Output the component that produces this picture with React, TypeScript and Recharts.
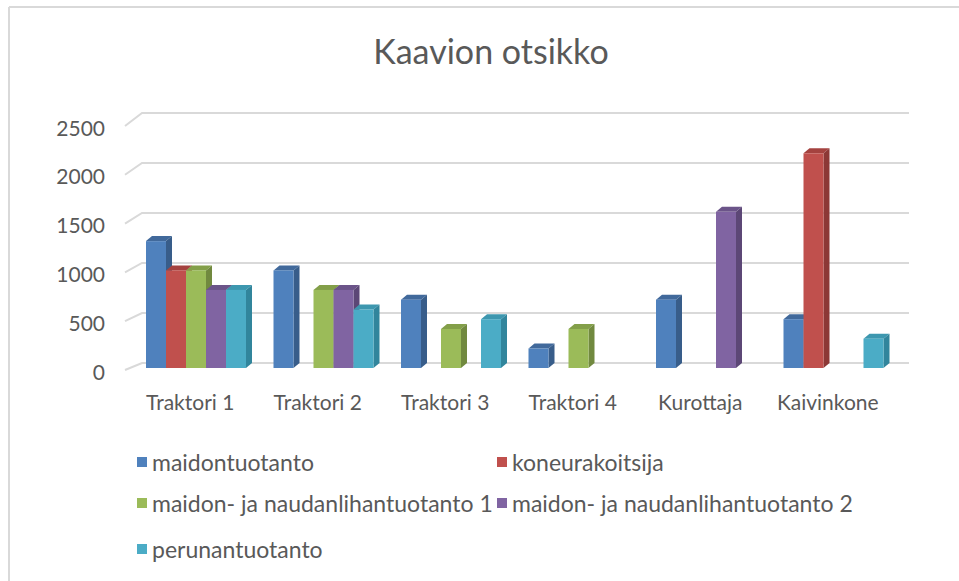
import { BarChart, Bar, XAxis, YAxis, CartesianGrid } from "recharts";

// Luokat ja sarjat
const categories = ["Traktori 1", "Traktori 2", "Traktori 3", "Traktori 4", "Kurottaja", "Kaivinkone"];
const maidontuotanto = [1300, 1000, 700, 200, 700, 500];
const koneurakoitsija = [1000, null, null, null, null, 2200];
const maidonNauta1 = [1000, 800, 400, 400, null, null];
const maidonNauta2 = [800, 800, null, null, 1600, null];
const perunantuotanto = [800, 600, 500, null, null, 300];
const yTicks = [0, 500, 1000, 1500, 2000, 2500];

const series = [
  { key: "maidontuotanto", name: "maidontuotanto", values: maidontuotanto, color: "#4F81BD", side: "#385D8A", top: "#41699B" },
  { key: "koneurakoitsija", name: "koneurakoitsija", values: koneurakoitsija, color: "#C0504D", side: "#8C3836", top: "#A4423F" },
  { key: "mn1", name: "maidon- ja naudanlihantuotanto 1", values: maidonNauta1, color: "#9BBB59", side: "#71893F", top: "#839F49" },
  { key: "mn2", name: "maidon- ja naudanlihantuotanto 2", values: maidonNauta2, color: "#8064A2", side: "#5C4776", top: "#6B5489" },
  { key: "peru", name: "perunantuotanto", values: perunantuotanto, color: "#4BACC6", side: "#31859C", top: "#3D97AF" },
];

const data = categories.map((c, i) => {
  const row: any = { name: c };
  series.forEach((s) => (row[s.key] = s.values[i]));
  return row;
});

const FONT = "Lato, 'Open Sans', sans-serif";
const TEXT = "#595959";
const GRID = "#D9D9D9";
const W = 959;
const H = 581;
const PLOT_BOTTOM = 368;
const PLOT_LEFT = 131;
const PLOT_RIGHT = 896;

// 3D-palkki: etupinta, yläpinta ja kylki
const make3DBar = (color: string, side: string, top: string) => (props: any) => {
  const { x, y, width, height } = props;
  if (!height || height <= 0) return <g />;
  const dx = 6;
  const dy = 5;
  return (
    <g>
      <path d={`M${x},${y} L${x + dx},${y - dy} L${x + width + dx},${y - dy} L${x + width},${y} Z`} fill={top} />
      <path d={`M${x + width},${y} L${x + width + dx},${y - dy} L${x + width + dx},${y + height - dy} L${x + width},${y + height} Z`} fill={side} />
      <rect x={x} y={y} width={width} height={height} fill={color} />
    </g>
  );
};

// takaseinän ruudukko vinolla alkuosalla
const gridLine = (p: any) => {
  const y = p.y1;
  const yBack = 363 - (PLOT_BOTTOM - y) * 1.0246;
  return (
    <g key={`g-${y}`}>
      <polyline
        points={`${p.x1 - 6},${y + 2} ${p.x1 + 11},${yBack} ${p.x2 + 13},${yBack}`}
        fill="none"
        stroke={GRID}
        strokeWidth={2}
      />
    </g>
  );
};

const YTick = ({ x, y, payload }: any) => (
  <text x={x} y={y + 11.5} textAnchor="end" fill={TEXT} fontSize={21} fontFamily={FONT}>
    {payload.value}
  </text>
);

const XTick = ({ x, y, payload }: any) => (
  <text x={x - 4.5} y={y + 41.5} textAnchor="middle" fill={TEXT} fontSize={21} fontFamily={FONT}>
    {payload.value}
  </text>
);

const legendRows = [462, 503, 549];
const legendCols = [137, 497];

export default function App() {
  return (
    <div style={{ position: "fixed", left: 0, top: 0, width: W, height: H, background: "#fff" }}>
      <BarChart
        width={W}
        height={H}
        data={data}
        margin={{ top: 124, right: W - PLOT_RIGHT, bottom: H - PLOT_BOTTOM - 30, left: 0 }}
        barCategoryGap={15}
        barGap={0}
      >
        <CartesianGrid vertical={false} horizontal={gridLine} />
        <XAxis dataKey="name" axisLine={false} tickLine={false} tickSize={0} tickMargin={0} height={30} tick={<XTick />} interval={0} />
        <YAxis
          width={PLOT_LEFT}
          domain={[0, 2500]}
          ticks={yTicks}
          axisLine={false}
          tickLine={false}
          tickSize={0}
          tickMargin={26}
          tick={<YTick />}
        />
        {series.map((s) => (
          <Bar
            key={s.key}
            dataKey={s.key}
            name={s.name}
            fill={s.color}
            isAnimationActive={false}
            shape={make3DBar(s.color, s.side, s.top)}
          />
        ))}
      </BarChart>
      <svg width={W} height={H} style={{ position: "absolute", left: 0, top: 0, pointerEvents: "none" }}>
        <line x1={9} y1={7} x2={W} y2={7} stroke={GRID} strokeWidth={2} />
        <line x1={9} y1={7} x2={9} y2={H} stroke={GRID} strokeWidth={2} />
        <text x={491} y={64} textAnchor="middle" fill={TEXT} fontSize={34} fontFamily={FONT}>
          Kaavion otsikko
        </text>
        {series.map((s, i) => {
          const cy = legendRows[Math.floor(i / 2)];
          const lx = legendCols[i % 2];
          return (
            <g key={s.key}>
              <rect x={lx} y={cy - 5} width={10} height={10} fill={s.color} />
              <text x={lx + 15} y={cy + 8.5} fill={TEXT} fontSize={23} fontFamily={FONT}>
                {s.name}
              </text>
            </g>
          );
        })}
      </svg>
    </div>
  );
}
